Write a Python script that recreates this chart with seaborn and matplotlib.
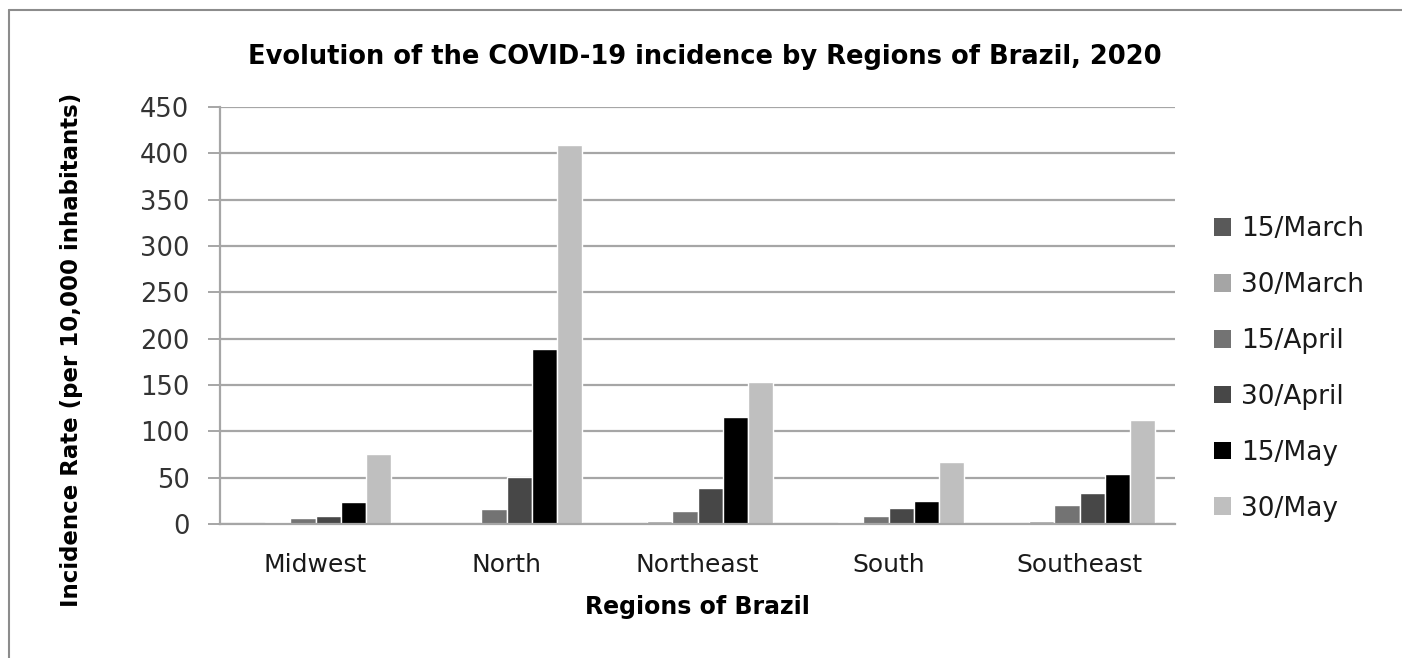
import matplotlib
matplotlib.use("Agg")
import matplotlib.pyplot as plt
from matplotlib.lines import Line2D
from matplotlib.patches import Patch
import seaborn as sns
import pandas as pd

# Incidence per 10,000 inhabitants by region and date
regions = ["Midwest", "North", "Northeast", "South", "Southeast"]
dates = ["15/March", "30/March", "15/April", "30/April", "15/May", "30/May"]
mar15 = [0.2, 0.1, 0.2, 0.1, 0.3]
mar30 = [2.5, 0.6, 3.6, 2.2, 3.6]
apr15 = [6.1, 15.8, 13.7, 9.0, 20.5]
apr30 = [9.0, 50.7, 38.8, 17.3, 33.8]
may15 = [24.1, 189.2, 115.5, 25.2, 53.6]
may30 = [75.9, 409.4, 153.6, 67.3, 112.2]
yticks = [0, 50, 100, 150, 200, 250, 300, 350, 400, 450]

colors = ["#595959", "#a5a5a5", "#737373", "#474747", "#000000", "#bfbfbf"]

series = [mar15, mar30, apr15, apr30, may15, may30]
rows = []
for d, vals in zip(dates, series):
    for r, v in zip(regions, vals):
        rows.append({"Region": r, "Date": d, "Rate": v})
df = pd.DataFrame(rows)

sns.set_theme(style="white")
plt.rcParams["font.family"] = ["DejaVu Sans"]

W, H = 1402, 658
fig = plt.figure(figsize=(W / 100, H / 100), dpi=100)
fig.patch.set_facecolor("white")
ax = fig.add_axes([220 / W, 1 - 524 / H, (1175 - 220) / W, (524 - 107) / H])

sns.barplot(data=df, x="Region", y="Rate", hue="Date", order=regions,
            hue_order=dates, palette=colors, width=0.79, edgecolor="white",
            linewidth=1.0, saturation=1, ax=ax, legend=False)

grid_c = "#a6a6a6"
ax.set_ylim(0, 450)
ax.set_yticks(yticks)
ax.set_yticklabels([str(t) for t in yticks], fontsize=18.5, color="#333333")
ax.yaxis.grid(True, color=grid_c, linewidth=1.6)
ax.set_axisbelow(True)
ax.tick_params(axis="y", length=9, width=1.4, color=grid_c, pad=13, left=True)
ax.tick_params(axis="x", length=0, pad=21, labelsize=18, labelcolor="#1a1a1a")
for s in ["top", "right"]:
    ax.spines[s].set_visible(False)
for s in ["left", "bottom"]:
    ax.spines[s].set_color(grid_c)
    ax.spines[s].set_linewidth(1.6)
ax.set_xlabel("")
ax.set_ylabel("")

fig.text(705 / W, 1 - 57 / H, "Evolution of the COVID-19 incidence by Regions of Brazil, 2020",
         ha="center", va="center", fontsize=18.5, fontweight="bold", color="#000000")
fig.text(697 / W, 1 - 607 / H, "Regions of Brazil", ha="center", va="center",
         fontsize=17, fontweight="bold", color="#000000")
fig.text(72 / W, 1 - 350 / H, "Incidence Rate (per 10,000 inhabitants)", ha="center",
         va="center", rotation=90, fontsize=16.5, fontweight="bold", color="#000000")

handles = [Patch(facecolor=c, edgecolor="none") for c in colors]
fig.legend(handles, dates, loc="center left", bbox_to_anchor=(1190 / W, 1 - 369 / H),
           frameon=False, fontsize=19, labelspacing=1.13, handlelength=0.65,
           handleheight=0.65, handletextpad=0.4, labelcolor="#1a1a1a")

# Outer chart frame (top and left edges)
fig.add_artist(Line2D([9 / W, 9 / W], [0, 1 - 10 / H], color="#8c8c8c", linewidth=1.5,
                      transform=fig.transFigure))
fig.add_artist(Line2D([9 / W, 1], [1 - 10 / H, 1 - 10 / H], color="#8c8c8c", linewidth=1.5,
                      transform=fig.transFigure))

fig.savefig("out.png", dpi=100, facecolor="white")
